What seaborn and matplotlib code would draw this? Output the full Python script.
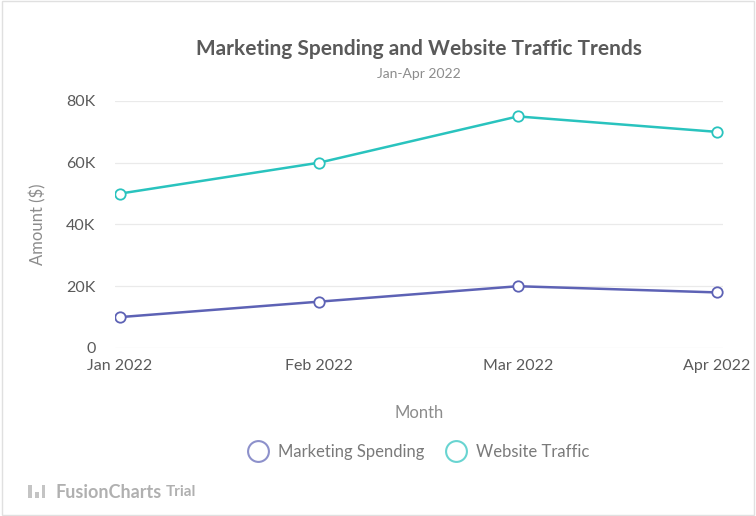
"""
Marketing Spending and Website Traffic Trends (Jan-Apr 2022)
"""

import pandas as pd
import matplotlib.pyplot as plt
from matplotlib.lines import Line2D
from matplotlib.patches import Rectangle
import seaborn as sns

# Data
months = ['Jan 2022', 'Feb 2022', 'Mar 2022', 'Apr 2022']
marketing_spending = [10000, 15000, 20000, 18000]
website_traffic = [50000, 60000, 75000, 70000]
series_names = ['Marketing Spending', 'Website Traffic']
y_ticks = [0, 20000, 40000, 60000, 80000]
y_tick_labels = ['0', '20K', '40K', '60K', '80K']

colors = {'Marketing Spending': '#5D62B5', 'Website Traffic': '#29C3BE'}

df = pd.DataFrame({
    'Month': months * 2,
    'Amount': marketing_spending + website_traffic,
    'Series': [series_names[0]] * len(months) + [series_names[1]] * len(months),
})
df['pos'] = df['Month'].map({m: i for i, m in enumerate(months)})

sns.set_theme(style='white')
plt.rcParams['font.family'] = ['Lato', 'DejaVu Sans']

fig = plt.figure(figsize=(7.56, 5.16), dpi=100)
ax = fig.add_axes([0.152, 0.3256, 0.804, 0.4787])

sns.lineplot(data=df, x='pos', y='Amount', hue='Series', palette=colors,
             marker='o', markersize=7.5, markerfacecolor='white',
             markeredgewidth=1.3, linewidth=1.8, legend=False, ax=ax)
# marker edges in series colour
for line, name in zip(ax.get_lines(), series_names):
    line.set_markeredgecolor(colors[name])

ax.set_xlim(-0.025, 3.03)
ax.set_ylim(0, 80000)
ax.set_xticks(range(len(months)))
ax.set_xticklabels(months)
ax.set_yticks(y_ticks)
ax.set_yticklabels(y_tick_labels)
ax.tick_params(axis='both', colors='#5A5A5A', labelsize=11.5, length=0)
ax.tick_params(axis='y', pad=14)
ax.tick_params(axis='x', pad=8)
ax.grid(axis='y', color='#EAEAEA', linewidth=0.9)
for s in ax.spines.values():
    s.set_visible(False)

ax.set_xlabel('Month', fontsize=12, color='#8C8C8C', labelpad=23)
ax.set_ylabel('Amount ($)', fontsize=12, color='#8C8C8C', labelpad=14)

# Titles
fig.text(0.554, 0.906, 'Marketing Spending and Website Traffic Trends',
         ha='center', va='center', fontsize=15, fontweight='bold', color='#5A5A5A')
fig.text(0.554, 0.857, 'Jan-Apr 2022', ha='center', va='center',
         fontsize=10, color='#8C8C8C')

# Legend
handles = [Line2D([], [], linestyle='none', marker='o', markersize=15,
                  markerfacecolor='white', markeredgecolor=colors[n],
                  markeredgewidth=1.5, alpha=0.7) for n in series_names]
fig.legend(handles, series_names, loc='center', bbox_to_anchor=(0.55, 0.124),
           ncol=2, frameon=False, fontsize=12, labelcolor='#7A7A7A',
           handletextpad=0.2, columnspacing=0.9)

# Watermark (icon bars + text)
for x0, h in [(0.037, 0.026), (0.046, 0.013), (0.055, 0.026)]:
    fig.patches.append(Rectangle((x0, 0.034), 0.005, h, transform=fig.transFigure,
                                 facecolor='#C4C4C4', edgecolor='none'))
fig.text(0.074, 0.046, 'FusionCharts', fontsize=13, color='#B0B0B0',
         va='center', fontweight='bold')
fig.text(0.219, 0.046, 'Trial', fontsize=11, color='#B0B0B0', va='center',
         fontweight='bold')

# border
fig.patches.append(Rectangle((0.002, 0.002), 0.996, 0.996, transform=fig.transFigure,
                             fill=False, edgecolor='#E0E0E0', linewidth=1))

plt.savefig('out.png', dpi=100)
plt.close()
